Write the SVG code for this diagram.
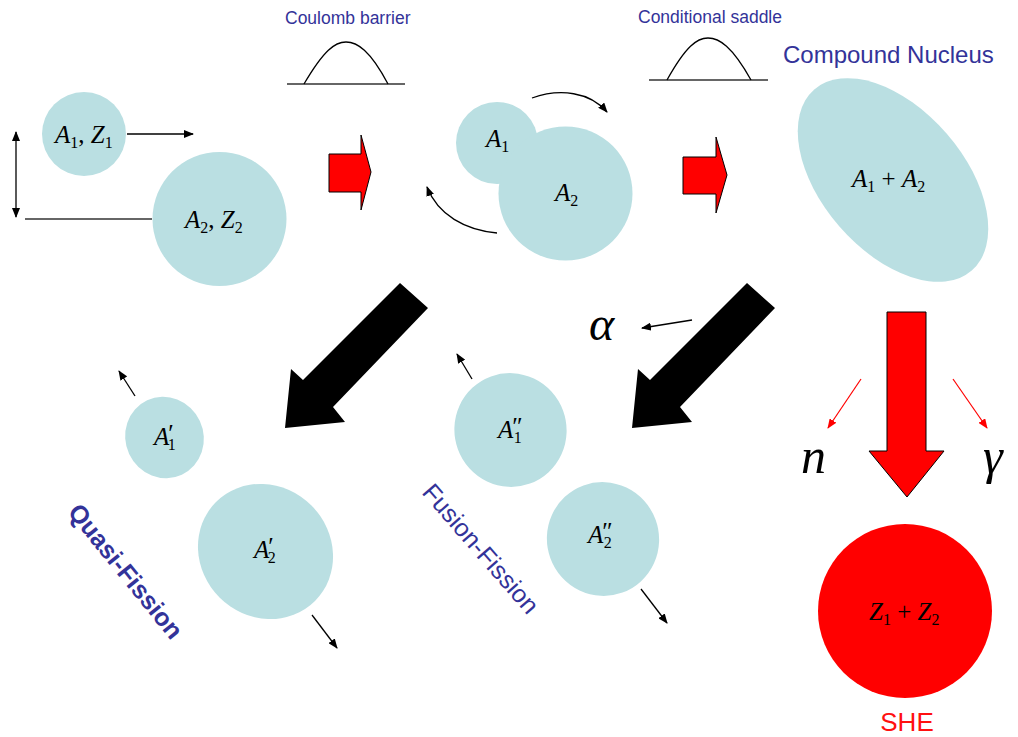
<svg xmlns="http://www.w3.org/2000/svg" width="1018" height="737" viewBox="0 0 1018 737">
<style>
.nuc{fill:#badfe2}
.m{font-family:"Liberation Serif",serif;font-size:25px;fill:#000}
.i{font-style:italic}
.sub{font-size:16px}
.big{font-family:"Liberation Serif",serif;font-style:italic;fill:#000}
.lbl{font-family:"Liberation Sans",Arial,sans-serif;fill:#333399}
.thin{stroke:#000;stroke-width:1.3;fill:none}
.red{fill:#ff0000;stroke:#000;stroke-width:1}
</style>
<defs>
<marker id="ah" markerWidth="10" markerHeight="8" refX="9" refY="4" orient="auto" markerUnits="userSpaceOnUse">
<path d="M0,0 L10,4 L0,8 Z" fill="#000"/>
</marker>
<marker id="ahr" markerWidth="10" markerHeight="8" refX="9" refY="4" orient="auto" markerUnits="userSpaceOnUse">
<path d="M0,0 L10,4 L0,8 Z" fill="#ff0000"/>
</marker>
<marker id="ahs" markerWidth="10" markerHeight="8" refX="1" refY="4" orient="auto" markerUnits="userSpaceOnUse">
<path d="M10,0 L0,4 L10,8 Z" fill="#000"/>
</marker>
</defs>

<!-- barriers -->
<g id="coulomb-barrier">
<text class="lbl" x="285" y="24" font-size="17.5">Coulomb barrier</text>
<line x1="287" y1="84" x2="405" y2="84" stroke="#333" stroke-width="1.3"/>
<path d="M304,84 C324,50 335,42 346,42 C357,42 370,50 388,84" class="thin"/>
</g>
<g id="conditional-saddle">
<text class="lbl" x="638" y="23" font-size="17.5">Conditional saddle</text>
<line x1="649" y1="80" x2="768" y2="80" stroke="#333" stroke-width="1.3"/>
<path d="M667,80 C686,46 697,38 708,38 C719,38 732,46 751,80" class="thin"/>
</g>

<!-- projectile & target -->
<g id="projectile">
<circle class="nuc" cx="84" cy="134" r="42"/>
<text class="m" x="55" y="143"><tspan class="i">A</tspan><tspan class="sub" dy="5">1</tspan><tspan dy="-5">, </tspan><tspan class="i">Z</tspan><tspan class="sub" dy="5">1</tspan></text>
</g>
<g id="target">
<circle class="nuc" cx="219.5" cy="219" r="67"/>
<text class="m" x="185" y="228"><tspan class="i">A</tspan><tspan class="sub" dy="5">2</tspan><tspan dy="-5">, </tspan><tspan class="i">Z</tspan><tspan class="sub" dy="5">2</tspan></text>
</g>

<!-- dinuclear -->
<g id="dinuclear">
<circle class="nuc" cx="497" cy="143" r="41"/>
<circle class="nuc" cx="565.5" cy="193.5" r="67"/>
<text class="m" x="486" y="147"><tspan class="i">A</tspan><tspan class="sub" dy="5">1</tspan></text>
<text class="m" x="555" y="201"><tspan class="i">A</tspan><tspan class="sub" dy="5">2</tspan></text>
</g>

<!-- compound nucleus -->
<g id="compound-nucleus">
<text class="lbl" x="783" y="63" font-size="24">Compound Nucleus</text>
<ellipse class="nuc" cx="893" cy="180" rx="120" ry="71" transform="rotate(49 893 180)"/>
<text class="m" x="852" y="187"><tspan class="i">A</tspan><tspan class="sub" dy="5">1</tspan><tspan dy="-5"> + </tspan><tspan class="i">A</tspan><tspan class="sub" dy="5">2</tspan></text>
</g>

<!-- quasi-fission -->
<g id="quasi-fission">
<ellipse class="nuc" cx="164.5" cy="437.5" rx="39" ry="41" transform="rotate(-25 164.5 437.5)"/>
<text class="m" x="154" y="445"><tspan class="i">A</tspan><tspan dx="-1" dy="-3">′</tspan><tspan class="sub" dx="-6" dy="8">1</tspan></text>
<ellipse class="nuc" cx="265.5" cy="551.5" rx="70" ry="65" transform="rotate(45 265.5 551.5)"/>
<text class="m" x="254" y="558"><tspan class="i">A</tspan><tspan dx="-1" dy="-3">′</tspan><tspan class="sub" dx="-6" dy="8">2</tspan></text>
<text class="lbl" font-size="25" font-weight="bold" text-anchor="middle" dominant-baseline="central" transform="translate(126 571) rotate(51)">Quasi-Fission</text>
</g>

<!-- fusion-fission -->
<g id="fusion-fission">
<ellipse class="nuc" cx="510.5" cy="430" rx="56" ry="57" transform="rotate(-20 510.5 430)"/>
<text class="m" x="498" y="438"><tspan class="i">A</tspan><tspan dx="-1" dy="-3">″</tspan><tspan class="sub" dx="-9" dy="8">1</tspan></text>
<ellipse class="nuc" cx="603" cy="539" rx="56" ry="57" transform="rotate(-20 603 539)"/>
<text class="m" x="588" y="543"><tspan class="i">A</tspan><tspan dx="-1" dy="-3">″</tspan><tspan class="sub" dx="-9" dy="8">2</tspan></text>
<text class="lbl" font-size="25" text-anchor="middle" dominant-baseline="central" transform="translate(481 548.5) rotate(49)">Fusion-Fission</text>
</g>

<!-- SHE -->
<g id="she">
<circle cx="905" cy="611" r="87" fill="#ff0000"/>
<text class="m" x="869" y="620"><tspan class="i">Z</tspan><tspan class="sub" dy="5">1</tspan><tspan dy="-5"> + </tspan><tspan class="i">Z</tspan><tspan class="sub" dy="5">2</tspan></text>
<text x="907" y="731" font-size="26" text-anchor="middle" font-family="Liberation Sans, Arial, sans-serif" fill="#ff1010">SHE</text>
</g>

<!-- particle labels -->
<g id="particles">
<text class="big" x="589" y="340" font-size="48">α</text>
<text class="big" x="801" y="473" font-size="50">n</text>
<text class="big" x="983" y="473" font-size="50">γ</text>
</g>

<!-- connectors -->
<g id="connectors">
<line x1="127" y1="134" x2="193" y2="134" class="thin" marker-end="url(#ah)"/>
<line x1="16" y1="132" x2="16" y2="217" class="thin" marker-start="url(#ahs)" marker-end="url(#ah)"/>
<line x1="25" y1="219" x2="152" y2="219" stroke="#333" stroke-width="1.3"/>
<path d="M532,98 C560,88 590,92 607,112" class="thin" marker-end="url(#ah)"/>
<path d="M497,233 C465,230 438,215 427,187" class="thin" marker-end="url(#ah)"/>
<polygon class="red" points="329,154 361,154 361,135 371,172 361,210 361,192 329,192"/>
<polygon class="red" points="683,157 716,157 716,137 727,175 716,213 716,194 683,194"/>
<polygon class="red" points="887,312 926,312 926,451 944,451 907,497 869,451 887,451"/>
<polygon fill="#000" points="400,283 428,308 333,407 345,422 285,428 291,369 303,380"/>
<polygon fill="#000" points="747,283 775,308 680,407 692,422 632,428 638,369 650,380"/>
<line x1="692" y1="320" x2="642" y2="328" class="thin" marker-end="url(#ah)"/>
<line x1="135" y1="396" x2="119" y2="371" class="thin" marker-end="url(#ah)"/>
<line x1="312" y1="615" x2="337" y2="648" class="thin" marker-end="url(#ah)"/>
<line x1="472" y1="379" x2="457" y2="354" class="thin" marker-end="url(#ah)"/>
<line x1="641" y1="589" x2="667" y2="623" class="thin" marker-end="url(#ah)"/>
<line x1="861" y1="379" x2="828" y2="428" stroke="#ff0000" stroke-width="1.2" marker-end="url(#ahr)"/>
<line x1="953" y1="379" x2="987" y2="428" stroke="#ff0000" stroke-width="1.2" marker-end="url(#ahr)"/>
</g>
</svg>
